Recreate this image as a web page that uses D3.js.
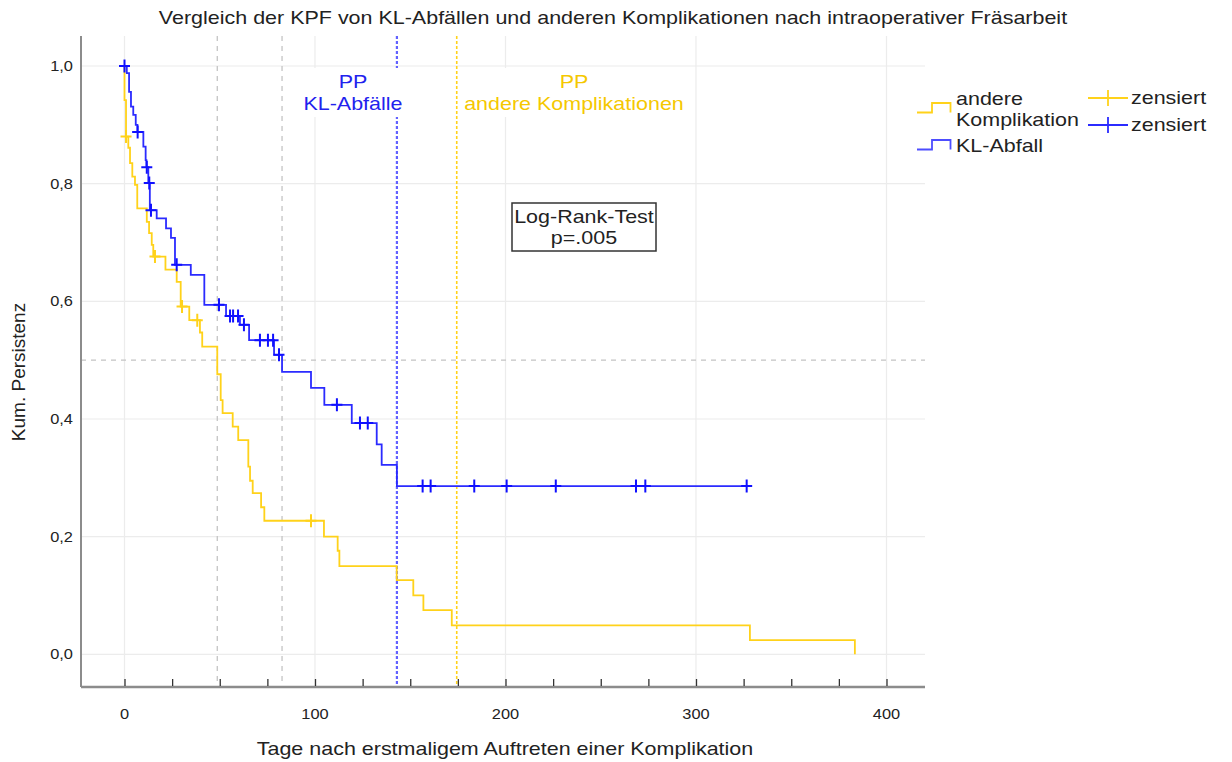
<!DOCTYPE html>
<html>
<head>
<meta charset="utf-8">
<script src="https://cdn.jsdelivr.net/npm/d3@7"></script>
<style>
body { margin: 0; background: #fff; }
text { font-family: "Liberation Sans", Arial, sans-serif; fill: #222; }
</style>
</head>
<body>
<svg id="chart" width="1232" height="762"></svg>
<script>
// Kaplan-Meier: KL-Abfall vs. andere Komplikation

var klTimes = [0, 1.2, 2.4, 3.4, 4.6, 5.9, 6.8, 9.9, 11.1, 11.5, 12.5, 13.3, 16.9, 21.8, 24.4, 26.5,
    34.8, 41.9, 53.3, 60.6, 65.4, 78.5, 82.7, 97.9, 104.9, 119.3, 132.4, 135.0, 143.0, 326.6];
var klSurv = [1, 0.988, 0.956, 0.931, 0.917, 0.900, 0.888, 0.863, 0.840, 0.828, 0.801, 0.755, 0.741, 0.724, 0.708, 0.662,
    0.645, 0.594, 0.575, 0.560, 0.534, 0.509, 0.480, 0.453, 0.424, 0.393, 0.357, 0.322, 0.286, 0.286];
var klCensored = [0, 6.9, 11.7, 13.0, 13.9, 27.4, 49.6, 55.4, 57.0, 59.6, 62.7, 71.1, 75.3, 78.0, 81.1,
    111.5, 123.6, 127.7, 156.5, 160.7, 183.6, 200.6, 226.4, 268.5, 273.4, 326.6];

var andTimes = [0, 0, 0.8, 2.0, 2.9, 4.1, 5.5, 6.7, 11.7, 12.9, 14.3, 15.1, 21.5, 27.4, 29.5, 34.0, 39.6, 40.8,
    48.7, 50.5, 51.5, 56.8, 59.7, 65.0, 65.9, 67.3, 71.7, 73.4, 104.7, 111.9, 112.8, 142.9, 151.6, 156.9,
    171.8, 328.3, 383.4];
var andSurv = [1, 0.942, 0.880, 0.861, 0.835, 0.812, 0.798, 0.758, 0.735, 0.716, 0.696, 0.676, 0.654, 0.633, 0.591, 0.568, 0.547, 0.523,
    0.476, 0.432, 0.410, 0.387, 0.364, 0.319, 0.295, 0.274, 0.250, 0.227, 0.200, 0.176, 0.150, 0.126, 0.100, 0.075,
    0.049, 0.024, 0];
var andCensored = [0.8, 16.0, 30.2, 38.2, 97.9];

var xTicks = [0, 100, 200, 300, 400];
var xMinorTicks = d3.range(0, 401, 25);
var yTicks = [0, 0.2, 0.4, 0.6, 0.8, 1.0];
var medianTimes = [48.7, 82.7];
var ppKL = 143.0, ppAnd = 174.4;

var blue = '#2b2bff', yellow = '#ffd21a';
var stretchK = 1.13;

var svg = d3.select('#chart');

var frame = {left: 81, right: 925, top: 36, bottom: 687};

var x = d3.scaleLinear().domain([0, 400]).range([124.5, 886.5]);
var y = d3.scaleLinear().domain([0, 1]).range([654.3, 66]);

// widen glyphs a little, the source picture is stretched sideways
function stretch(sel, k){
    sel.each(function(){
        var w = this.getComputedTextLength();
        d3.select(this).attr('textLength', w * (k || stretchK)).attr('lengthAdjust', 'spacingAndGlyphs');
    });
    return sel;
}

function series(times, surv){
    return times.map(function(t, i){ return {t: t, s: surv[i]}; });
}

function survAt(data, t){
    var s = 1;
    data.forEach(function(d){ if (d.t <= t) s = d.s; });
    return s;
}

var kl = series(klTimes, klSurv),
    and = series(andTimes, andSurv);

// grid
svg.append('g').selectAll('line')
    .data(yTicks).enter().append('line')
    .attr('x1', frame.left).attr('x2', frame.right)
    .attr('y1', function(d){ return y(d); }).attr('y2', function(d){ return y(d); })
    .attr('stroke', '#ececec').attr('stroke-width', 1.2);

svg.append('g').selectAll('line')
    .data(xTicks).enter().append('line')
    .attr('x1', function(d){ return x(d); }).attr('x2', function(d){ return x(d); })
    .attr('y1', frame.top).attr('y2', frame.bottom)
    .attr('stroke', '#ececec').attr('stroke-width', 1.2);

// median reference lines
svg.append('line')
    .attr('x1', frame.left).attr('x2', frame.right)
    .attr('y1', y(0.5)).attr('y2', y(0.5))
    .attr('stroke', '#c4c4c4').attr('stroke-width', 1.3).attr('stroke-dasharray', '5,5');

svg.append('g').selectAll('line')
    .data(medianTimes).enter().append('line')
    .attr('x1', function(d){ return x(d); }).attr('x2', function(d){ return x(d); })
    .attr('y1', frame.top).attr('y2', frame.bottom)
    .attr('stroke', '#c4c4c4').attr('stroke-width', 1.3).attr('stroke-dasharray', '5,5');

// PP lines
svg.append('line')
    .attr('x1', x(ppKL)).attr('x2', x(ppKL))
    .attr('y1', frame.top).attr('y2', frame.bottom)
    .attr('stroke', '#6262ff').attr('stroke-width', 2.2).attr('stroke-dasharray', '3,2');
svg.append('line')
    .attr('x1', x(ppAnd)).attr('x2', x(ppAnd))
    .attr('y1', frame.top).attr('y2', frame.bottom)
    .attr('stroke', yellow).attr('stroke-width', 1.6).attr('stroke-dasharray', '3,2');

// PP labels with white backing
function ppLabel(cx, color, lines){
    var g = svg.append('g');
    var bg = g.append('rect').attr('fill', '#fff');
    lines.forEach(function(l, i){
        g.append('text')
            .attr('x', cx).attr('y', 88 + i * 22)
            .attr('text-anchor', 'middle')
            .style('font-size', '19px')
            .style('fill', color)
            .text(l)
            .call(stretch);
    });
    var bb = g.node().getBBox();
    bg.attr('x', bb.x - 2).attr('y', 68).attr('width', bb.width + 4).attr('height', 49);
}
ppLabel(353, '#2222ee', ['PP', 'KL-Abfälle']);
ppLabel(574, '#f5c800', ['PP', 'andere Komplikationen']);

// curves
var line = d3.line()
    .x(function(d){ return x(d.t); })
    .y(function(d){ return y(d.s); })
    .curve(d3.curveStepAfter);

svg.append('path').datum(and)
    .attr('d', line).attr('fill', 'none')
    .attr('stroke', yellow).attr('stroke-width', 1.8);
svg.append('path').datum(kl)
    .attr('d', line).attr('fill', 'none')
    .attr('stroke', blue).attr('stroke-width', 1.8);

// censor marks
function crosses(times, data, color){
    var g = svg.append('g');
    times.forEach(function(t){
        var cx = x(t), cy = y(survAt(data, t));
        g.append('path')
            .attr('d', 'M' + (cx - 5.5) + ',' + cy + 'H' + (cx + 5.5) + 'M' + cx + ',' + (cy - 6.5) + 'V' + (cy + 6.5))
            .attr('stroke', color).attr('stroke-width', 2).attr('fill', 'none');
    });
}
crosses(andCensored, and, yellow);
crosses(klCensored, kl, '#1010ff');

// axes frame
svg.append('line')
    .attr('x1', frame.left).attr('x2', frame.left)
    .attr('y1', frame.top).attr('y2', frame.bottom)
    .attr('stroke', '#8c8c8c').attr('stroke-width', 2);
svg.append('line')
    .attr('x1', frame.left).attr('x2', frame.right)
    .attr('y1', frame.bottom).attr('y2', frame.bottom)
    .attr('stroke', '#8c8c8c').attr('stroke-width', 2.5);

var xAxis = d3.axisBottom(x).tickValues(xMinorTicks).tickSize(-7).tickFormat('');
svg.append('g')
    .attr('transform', 'translate(0,' + (frame.bottom - 1) + ')')
    .call(xAxis)
    .call(function(g){ g.select('.domain').remove(); g.selectAll('line').attr('stroke', '#333').attr('stroke-width', 1.3); });

svg.append('g').selectAll('text')
    .data(xTicks).enter().append('text')
    .attr('x', function(d){ return x(d); }).attr('y', 719)
    .attr('text-anchor', 'middle')
    .style('font-size', '14.5px')
    .text(function(d){ return d; })
    .call(stretch);

var fmtY = function(d){ return d3.format('.1f')(d).replace('.', ','); };
svg.append('g').selectAll('text')
    .data(yTicks).enter().append('text')
    .attr('x', 73).attr('y', function(d){ return y(d) + 5; })
    .attr('text-anchor', 'end')
    .style('font-size', '14.5px')
    .text(fmtY)
    .call(stretch);

// titles
svg.append('text')
    .attr('x', 613).attr('y', 24)
    .attr('text-anchor', 'middle')
    .style('font-size', '19px')
    .text('Vergleich der KPF von KL-Abfällen und anderen Komplikationen nach intraoperativer Fräsarbeit')
    .call(stretch);

svg.append('text')
    .attr('x', 505).attr('y', 755)
    .attr('text-anchor', 'middle')
    .style('font-size', '19px')
    .text('Tage nach erstmaligem Auftreten einer Komplikation')
    .call(stretch);

svg.append('text')
    .attr('transform', 'translate(25,372) rotate(-90)')
    .attr('text-anchor', 'middle')
    .style('font-size', '19px')
    .text('Kum. Persistenz');

// log-rank box
svg.append('rect')
    .attr('x', 512).attr('y', 203).attr('width', 144).attr('height', 48)
    .attr('fill', '#fff').attr('stroke', '#333').attr('stroke-width', 1.5);
svg.append('text')
    .attr('x', 584).attr('y', 223).attr('text-anchor', 'middle')
    .style('font-size', '19px').text('Log-Rank-Test').call(stretch);
svg.append('text')
    .attr('x', 584).attr('y', 244).attr('text-anchor', 'middle')
    .style('font-size', '19px').text('p=.005').call(stretch);

// legend
var legend = svg.append('g');
function stepIcon(yb, color){
    legend.append('path')
        .attr('d', 'M917,' + yb + 'H932V' + (yb - 9.5) + 'H950.5V' + yb)
        .attr('fill', 'none').attr('stroke', color).attr('stroke-width', 1.8);
}
stepIcon(112.5, yellow);
stepIcon(149.5, '#4d4dff');
[['andere', 105], ['Komplikation', 126], ['KL-Abfall', 152]].forEach(function(d){
    legend.append('text').attr('x', 956).attr('y', d[1])
        .style('font-size', '19px').text(d[0]).call(stretch);
});

function censorIcon(cy, color){
    legend.append('path')
        .attr('d', 'M1088,' + cy + 'H1128M1108,' + (cy - 8) + 'V' + (cy + 8))
        .attr('fill', 'none').attr('stroke', color).attr('stroke-width', 1.8);
}
censorIcon(98, yellow);
censorIcon(125, '#2b2bff');
[['zensiert', 104], ['zensiert', 131]].forEach(function(d){
    legend.append('text').attr('x', 1131).attr('y', d[1])
        .style('font-size', '19px').text(d[0]).call(stretch);
});
</script>
</body>
</html>
